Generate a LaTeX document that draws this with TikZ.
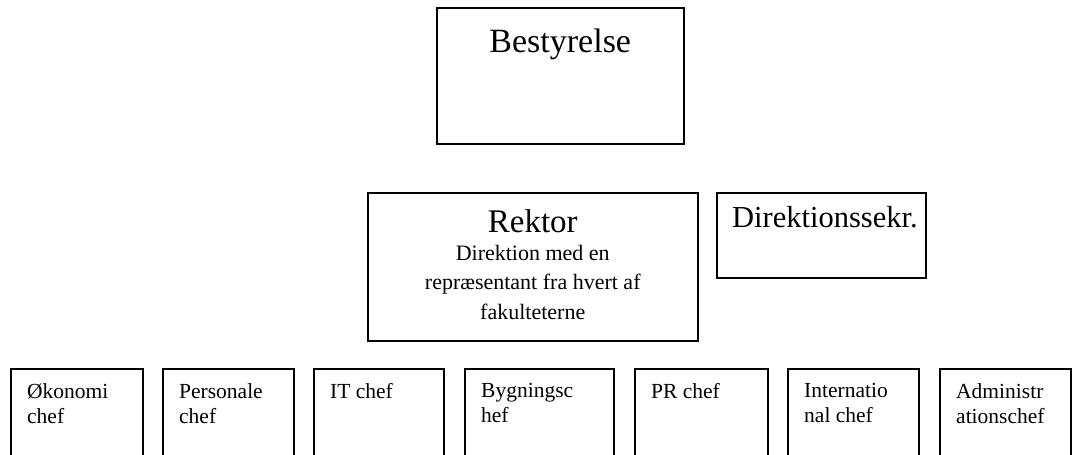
\documentclass[tikz,border=0pt]{standalone}
\usepackage{fontspec}
\setmainfont{Liberation Serif}
\begin{document}
\begin{tikzpicture}[x=1pt,y=-1pt,
  box/.style={draw,line width=1.5pt,inner sep=0pt,anchor=north west},
  small/.style={inner sep=0pt,anchor=north west,align=left,font=\fontsize{21.5}{25.5}\selectfont}]
\useasboundingbox (0,0) rectangle (1080,455);
\clip (-2,-2) rectangle (1082,455);
% top
\node[box,minimum width=247pt,minimum height=136pt] (best) at (436,7) {};
\node[inner sep=0pt,anchor=base,font=\fontsize{34}{40}\selectfont] (bestt) at ([yshift=-45pt]best.north) {Bestyrelse};
% middle
\node[box,minimum width=330pt,minimum height=148pt] (rek) at (367,192) {};
\node[inner sep=0pt,anchor=base,font=\fontsize{33}{38}\selectfont] (rekt) at ([yshift=-40pt]rek.north) {Rektor};
\node[inner sep=0pt,anchor=north,align=center,font=\fontsize{22}{29.5}\selectfont] (rekb) at ([yshift=-53pt]rek.north) {Direktion med en\\repræsentant fra hvert af\\fakulteterne};
\node[box,minimum width=209pt,minimum height=85pt] (sek) at (716,192) {};
\node[inner sep=0pt,anchor=base west,font=\fontsize{30.5}{35}\selectfont] (sekt) at ([xshift=16pt,yshift=-35pt]sek.north west) {Direktionssekr.};
% bottom row
\node[box,minimum width=132pt,minimum height=100pt] (b1) at (10,368) {};
\node[box,minimum width=131pt,minimum height=100pt] (b2) at (162,368) {};
\node[box,minimum width=130pt,minimum height=100pt] (b3) at (313,368) {};
\node[box,minimum width=149pt,minimum height=100pt] (b4) at (464,368) {};
\node[box,minimum width=133pt,minimum height=100pt] (b5) at (634,368) {};
\node[box,minimum width=131pt,minimum height=100pt] (b6) at (787,368) {};
\node[box,minimum width=131pt,minimum height=100pt] (b7) at (939,368) {};
\node[small] (t1) at ([xshift=17pt,yshift=-15pt]b1.north west) {Økonomi\\chef};
\node[small] (t2) at ([xshift=17pt,yshift=-15pt]b2.north west) {Personale\\chef};
\node[small] (t3) at ([xshift=17pt,yshift=-15pt]b3.north west) {IT chef};
\node[small] (t4) at ([xshift=17pt,yshift=-15pt]b4.north west) {Bygningsc\\hef};
\node[small] (t5) at ([xshift=17pt,yshift=-15pt]b5.north west) {PR chef};
\node[small] (t6) at ([xshift=17pt,yshift=-15pt]b6.north west) {Internatio\\nal chef};
\node[small] (t7) at ([xshift=17pt,yshift=-15pt]b7.north west) {Administr\\ationschef};
\end{tikzpicture}
\end{document}
